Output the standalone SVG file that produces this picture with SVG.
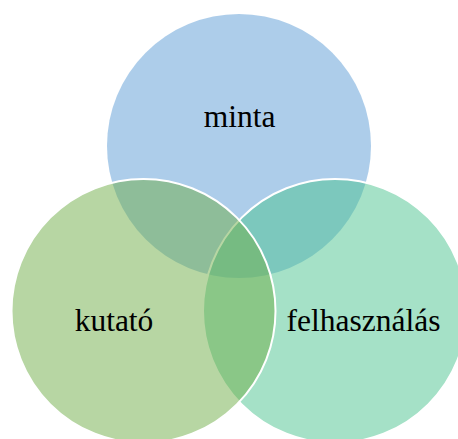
<svg xmlns="http://www.w3.org/2000/svg" width="458" height="439" viewBox="0 0 458 439">
<style>
.c{fill-opacity:0.5}
.s{stroke:#fff;stroke-width:2}
.t{font-family:"Liberation Serif","Times New Roman",serif;font-size:31.5px;fill:#000;text-anchor:middle}
</style>
<rect width="458" height="439" fill="#fff"/>
<g id="minta">
<circle class="c" cx="239" cy="146" r="132" fill="#5B9BD5"/>
</g>
<g id="felhasznalas">
<circle class="c s" cx="335" cy="311" r="132" fill="#4BC38F"/>
</g>
<g id="kutato">
<circle class="c s" cx="143.5" cy="311" r="132" fill="#70AD47"/>
</g>
<g id="labels">
<text class="t" x="239.5" y="127">minta</text>
<text class="t" x="114" y="331">kutató</text>
<text class="t" x="363.5" y="331">felhasználás</text>
</g>
</svg>
